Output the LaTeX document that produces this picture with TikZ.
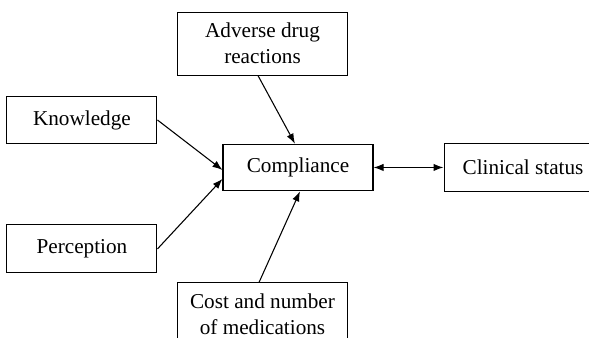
\documentclass[tikz,border=0pt]{standalone}
\usepackage{fontspec}
\setmainfont{Liberation Serif}
\usetikzlibrary{positioning, arrows.meta}

\begin{document}
\begin{tikzpicture}[
  font=\fontsize{15.9}{19.5}\selectfont,
  >={Latex[length=7.5pt,width=5.5pt]},
  factor/.style={draw, line width=0.8pt, minimum width=112.5pt, minimum height=35pt, align=center, inner sep=0pt},
  bigbox/.style={draw, line width=0.8pt, minimum width=127pt, minimum height=47pt, align=center, inner sep=0pt},
  arr/.style={->, line width=0.8pt}
]
\clip (-223.5pt,-127.9pt) rectangle (218.25pt,125.6pt);
\node[factor] (comp) {Compliance};
\node[factor, minimum width=118.5pt, minimum height=36pt, right=52.5pt of comp] (clin) {Clinical status};
\node[bigbox, above=51pt of comp, xshift=-26.6pt] (adr) {Adverse drug\\reactions};
\node[bigbox, below=68.25pt of comp, xshift=-26.6pt] (cost) {Cost and number\\of medications};
\node[factor, left=48.75pt of comp, yshift=35.6pt] (know) {Knowledge};
\node[factor, minimum height=36pt, left=48.75pt of comp, yshift=-61.1pt] (perc) {Perception};
\draw[arr] (know.east) -- ([yshift=-1.9pt]comp.west);
\draw[arr] (perc.east) -- ([yshift=-8.6pt]comp.west);
\draw[arr] ([xshift=-3.4pt]adr.south) -- ([xshift=-2.3pt]comp.north);
\draw[arr] ([xshift=-2.6pt]cost.north) -- ([xshift=1.5pt]comp.south);
\draw[<->, line width=0.8pt] (comp.east) -- (clin.west);
\end{tikzpicture}
\end{document}
